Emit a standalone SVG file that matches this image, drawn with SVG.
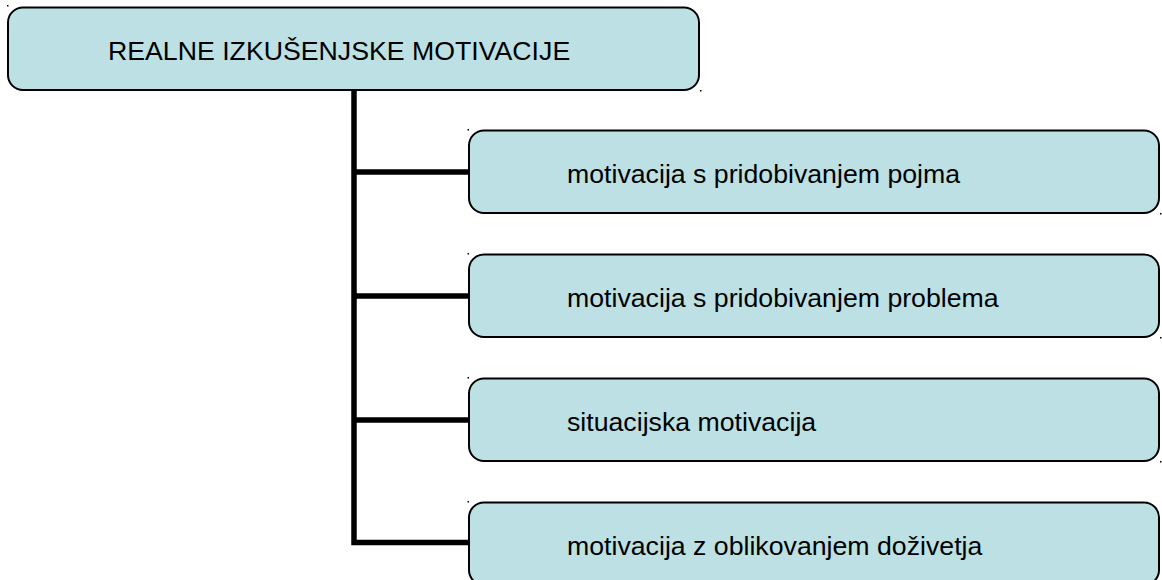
<svg xmlns="http://www.w3.org/2000/svg" width="1162" height="580" viewBox="0 0 1162 580">
<style>
.box{fill:#bce0e3;stroke:#000;stroke-width:2}
.t{font-family:"Liberation Sans",Arial,sans-serif;font-size:26.7px;fill:#000}
.dot{fill:#000}
.c{stroke:#000;stroke-width:5.5;fill:none}
</style>
<rect width="1162" height="580" fill="#fff"/>
<g id="connectors">
<path class="c" d="M354 90 V542.5 H470"/>
<path class="c" d="M354 172 H470 M354 296 H470 M354 420 H470"/>
</g>
<g id="root">
<rect class="box" x="8" y="7.5" width="691" height="82.5" rx="15"/>
<rect class="dot" x="7" y="5" width="1.5" height="1.5"/>
<rect class="dot" x="700" y="90" width="1.5" height="1.5"/>
<text class="t" x="108" y="60">REALNE IZKUŠENJSKE MOTIVACIJE</text>
</g>
<g id="n1">
<rect class="box" x="469" y="130.5" width="690" height="82.5" rx="15"/>
<rect class="dot" x="467.5" y="129" width="1.5" height="1.5"/>
<rect class="dot" x="1160" y="213" width="1.5" height="1.5"/>
<text class="t" x="567" y="183">motivacija s pridobivanjem pojma</text>
</g>
<g id="n2">
<rect class="box" x="469" y="254.5" width="690" height="82.5" rx="15"/>
<rect class="dot" x="467.5" y="253" width="1.5" height="1.5"/>
<rect class="dot" x="1160" y="337" width="1.5" height="1.5"/>
<text class="t" x="567" y="307">motivacija s pridobivanjem problema</text>
</g>
<g id="n3">
<rect class="box" x="469" y="378.5" width="690" height="82.5" rx="15"/>
<rect class="dot" x="467.5" y="377" width="1.5" height="1.5"/>
<rect class="dot" x="1160" y="461" width="1.5" height="1.5"/>
<text class="t" x="567" y="431">situacijska motivacija</text>
</g>
<g id="n4">
<rect class="box" x="469" y="502.5" width="690" height="82.5" rx="15"/>
<rect class="dot" x="467.5" y="501" width="1.5" height="1.5"/>
<text class="t" x="567" y="555">motivacija z oblikovanjem doživetja</text>
</g>
</svg>
